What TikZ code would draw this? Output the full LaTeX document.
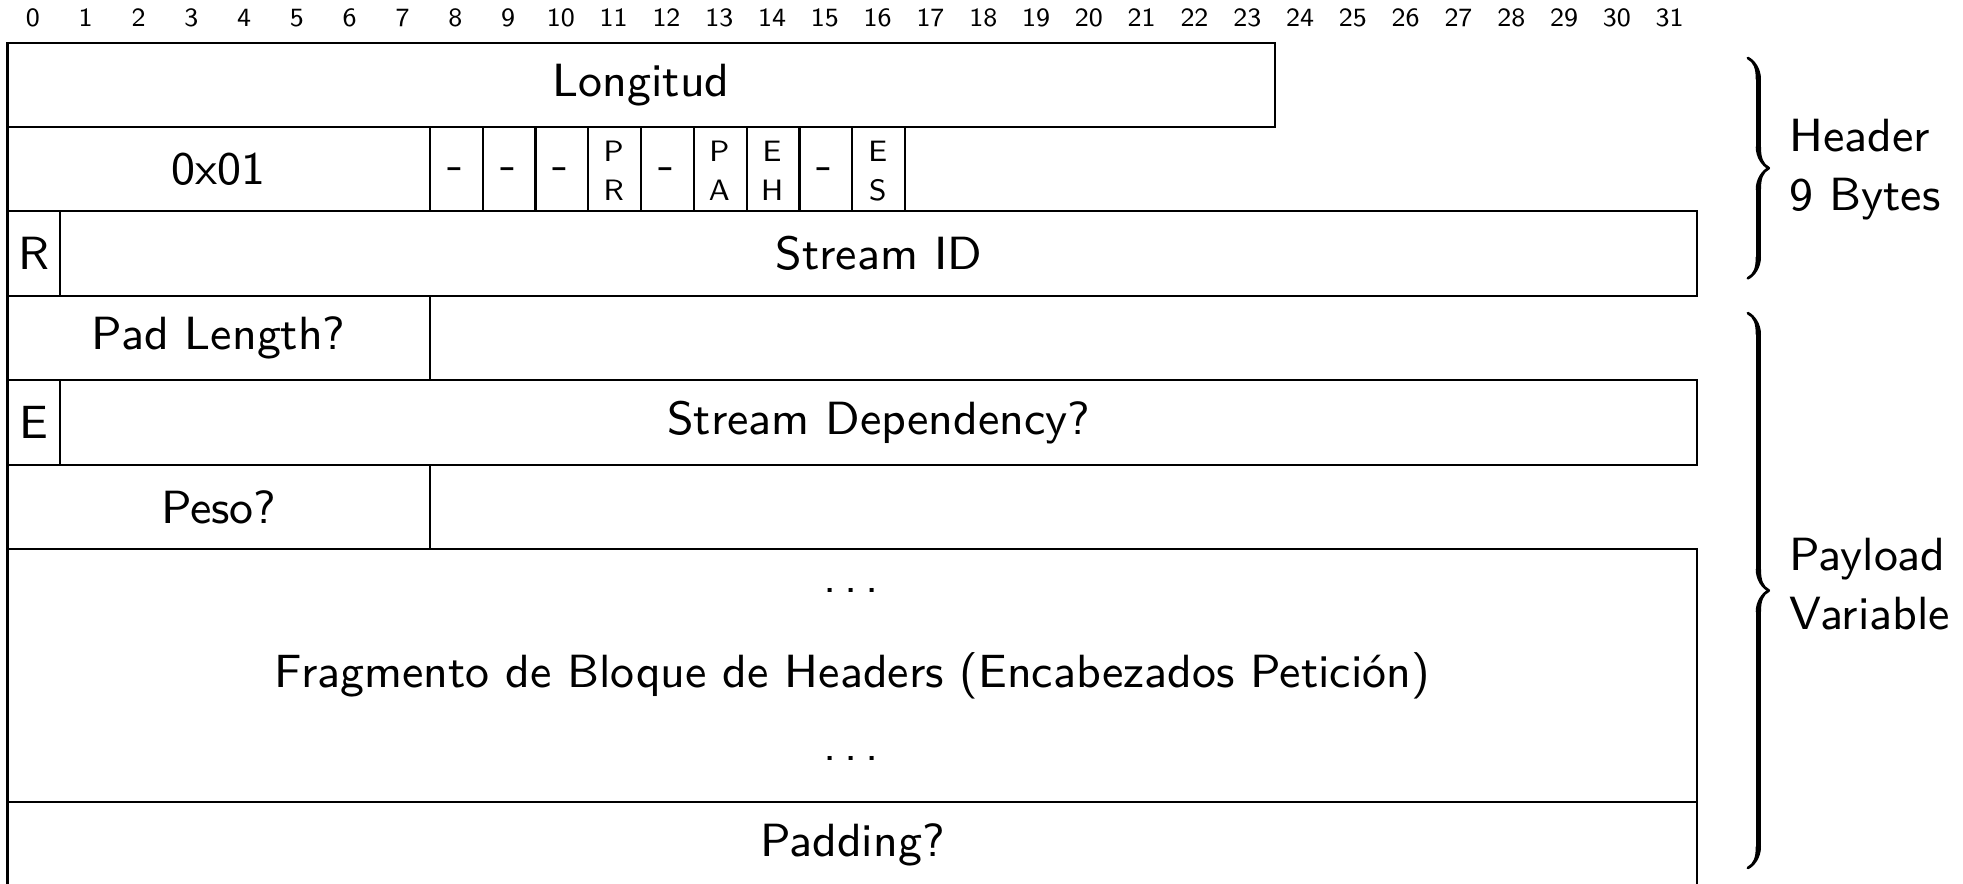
\documentclass[tikz,border=0pt]{standalone}
\usepackage{fontspec}
\renewcommand{\familydefault}{\sfdefault}
\usetikzlibrary{decorations.pathreplacing,calligraphy}
\newcommand{\spdots}{.\kern0.167em.\kern0.167em.}
\newcommand{\mainsz}{\fontsize{8.85}{10.6}\selectfont}
\tikzset{
  fld/.style={draw, line width=0.4pt, inner sep=0pt, font=\mainsz, anchor=north west},
  bitnum/.style={font=\fontsize{5}{6}\selectfont, anchor=base, inner sep=0pt},
  flagl/.style={font=\fontsize{5.6}{6.5}\selectfont, anchor=base, inner sep=0pt},
  dashl/.style={font=\mainsz, anchor=base, inner sep=0pt},
  plain/.style={font=\mainsz, anchor=base, inner sep=0pt},
  lbl/.style={font=\mainsz, anchor=base west, inner sep=0pt},
  brc/.style={decorate, decoration={calligraphic brace, amplitude=4pt}, line width=1pt},
}
\newcommand{\bw}{10.032pt}
\newcommand{\rh}{16.04pt}
\begin{document}
\begin{tikzpicture}[x=10.032pt, y=-16.04pt]
\useasboundingbox (-0.123,-0.4917) rectangle (37.055,9.970);
% bit numbers
\foreach \i in {0,...,31}{
  \node[bitnum] (b\i) at (\i+0.5,-0.175) {\i};
}
% row 0
\node[fld, minimum width=24*\bw, minimum height=\rh] (len) at (0,0) {Longitud};
% row 1
\node[fld, minimum width=8*\bw, minimum height=\rh] (type) at (0,1) {0x01};
\foreach \i in {8,...,16}{
  \node[fld, minimum width=\bw, minimum height=\rh] (f\i) at (\i,1) {};
}
\foreach \i in {8,9,10,12,15}{
  \node[dashl] (d\i) at (\i+0.5,1.636) {-};
}
\node[flagl] (pr1) at (11.5,1.424) {P};
\node[flagl] (pr2) at (11.5,1.878) {R};
\node[flagl] (pa1) at (13.5,1.424) {P};
\node[flagl] (pa2) at (13.5,1.878) {A};
\node[flagl] (eh1) at (14.5,1.424) {E};
\node[flagl] (eh2) at (14.5,1.878) {H};
\node[flagl] (es1) at (16.5,1.424) {E};
\node[flagl] (es2) at (16.5,1.878) {S};
% row 2
\node[fld, minimum width=\bw, minimum height=\rh] (rbit) at (0,2) {R};
\node[fld, minimum width=31*\bw, minimum height=\rh] (sid) at (1,2) {Stream ID};
% row 3
\node[fld, minimum width=8*\bw, minimum height=\rh] (padlen) at (0,3) {Pad Length?};
% row 4
\node[fld, minimum width=\bw, minimum height=\rh] (ebit) at (0,4) {E};
\node[fld, minimum width=31*\bw, minimum height=\rh] (sdep) at (1,4) {Stream Dependency?};
% row 5
\node[fld, minimum width=8*\bw, minimum height=\rh] (peso) at (0,5) {Peso?};
% rows 6-8
\node[fld, minimum width=32*\bw, minimum height=3*\rh] (frag) at (0,6) {Fragmento de Bloque de Headers (Encabezados Petición)};
\node[plain] (dtop) at (16,6.532) {\spdots};
\node[plain] (dbot) at (16,8.52) {\spdots};
% row 9
\node[fld, minimum width=32*\bw, minimum height=\rh] (pad) at (0,9) {Padding?};
% braces
\coordinate (hbt) at (32.98,0.195);
\coordinate (hbb) at (32.98,2.805);
\coordinate (pbt) at (32.98,3.217);
\coordinate (pbb) at (32.98,9.79);
\draw[brc] (hbt) -- (hbb);
\draw[brc] (pbt) -- (pbb);
\node[lbl] (hl1) at (33.75,1.306) {Header};
\node[lbl] (hl2) at (33.75,1.996) {9 Bytes};
\node[lbl] (pl1) at (33.75,6.27) {Payload};
\node[lbl] (pl2) at (33.75,6.97) {Variable};
\end{tikzpicture}
\end{document}
